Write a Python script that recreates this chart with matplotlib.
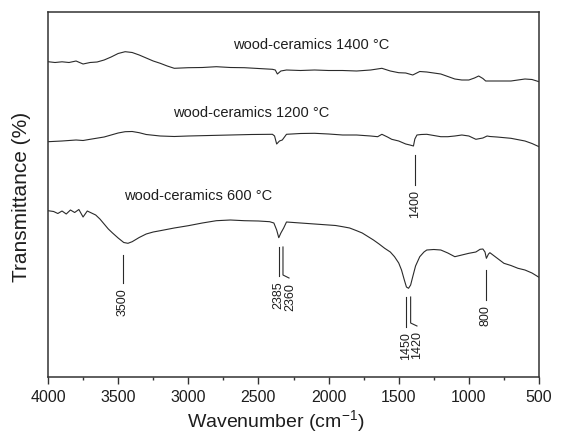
import matplotlib
matplotlib.use('Agg')
import matplotlib.pyplot as plt
from matplotlib.ticker import MultipleLocator

plt.rcParams['font.family'] = ['Liberation Sans', 'DejaVu Sans']
plt.rcParams['mathtext.fontset'] = 'custom'
plt.rcParams['mathtext.rm'] = 'Liberation Sans'

LINE_C = '#2a2a2a'
TEXT_C = '#1e1e1e'

# ── spectra (wavenumber, offset transmittance in arbitrary units) ──
WN_1400 = [4000, 3950, 3900, 3850, 3800, 3750, 3700, 3650, 3600, 3550,
           3500, 3450, 3400, 3350, 3300, 3250, 3200, 3150, 3100, 3050,
           3000, 2900, 2800, 2700, 2600, 2500, 2400, 2380, 2365, 2340,
           2300, 2200, 2100, 2000, 1900, 1800, 1700, 1620, 1560, 1500,
           1450, 1400, 1350, 1300, 1250, 1200, 1150, 1100, 1050, 1000,
           960, 930, 900, 880, 800, 700, 650, 600, 550, 500]
T_1400 = [313.3, 312.5, 313.2, 312.5, 314, 311, 312.5, 313, 315, 318,
          321.5, 323.3, 322.5, 320, 317, 314, 311.7, 309, 306.7, 307,
          307.3, 307.5, 308.3, 307.5, 307.3, 306.5, 305.7, 305, 301, 304,
          305, 304.5, 305, 304.5, 304.5, 304, 305, 306.7, 304, 302.3,
          302, 300, 303.5, 303, 302, 301, 298.5, 296, 295, 295,
          297, 299, 296.5, 294, 294, 294, 295, 296, 295.5, 293.3]

WN_1200 = [4000, 3900, 3800, 3750, 3700, 3600, 3500, 3450, 3400, 3350,
           3300, 3200, 3100, 3000, 2850, 2700, 2550, 2400, 2385, 2370,
           2350, 2330, 2300, 2200, 2100, 2000, 1900, 1800, 1700, 1650,
           1620, 1580, 1550, 1500, 1450, 1420, 1395, 1385, 1370, 1340,
           1300, 1250, 1200, 1150, 1100, 1050, 1000, 950, 900, 870,
           850, 800, 700, 600, 550, 500]
T_1200 = [233.3, 234, 235, 234.5, 235.7, 238, 242, 243.3, 243.5, 242.3,
          240.5, 239, 238.5, 239, 239.5, 240, 240.5, 240.7, 239, 231,
          234, 235, 240.7, 241.5, 241.7, 241, 240, 240, 239, 238.3,
          240.7, 238, 235.7, 234, 231, 230, 229, 236, 240, 240.5,
          240.7, 239.5, 238.3, 238.3, 239, 240, 239, 235.7, 237, 239,
          238.5, 238, 236.7, 234, 231.5, 228.3]

WN_600 = [4000, 3960, 3930, 3900, 3870, 3840, 3810, 3780, 3750, 3720,
          3690, 3660, 3630, 3600, 3570, 3540, 3500, 3460, 3430, 3400,
          3350, 3300, 3250, 3200, 3100, 3000, 2900, 2800, 2700, 2600,
          2500, 2420, 2390, 2370, 2355, 2340, 2320, 2300, 2200, 2100,
          2000, 1950, 1900, 1850, 1800, 1760, 1720, 1680, 1640, 1600,
          1560, 1530, 1500, 1480, 1460, 1445, 1430, 1415, 1400, 1380,
          1350, 1320, 1300, 1250, 1200, 1150, 1100, 1050, 1000, 950,
          920, 900, 885, 875, 860, 850, 800, 750, 700, 650,
          600, 550, 500]
T_600 = [164.3, 163.5, 161.5, 164, 161, 165, 162.5, 165.5, 158, 164,
         162, 160, 156, 151, 146, 142, 137, 132.5, 131.7, 133.3,
         137.5, 141, 143, 144.3, 147, 149.3, 152, 154.3, 155, 154.3,
         154, 153.3, 152, 145, 137.3, 142, 147, 153, 152, 151,
         150, 149.5, 148.3, 147, 144.3, 142, 138.5, 135, 131, 126.7,
         123, 118.3, 112, 105, 95, 88, 86.7, 90, 98.3, 109,
         118.3, 123, 125, 125.5, 125, 122, 118.3, 120, 121.7, 123,
         125.7, 126, 123, 116.7, 121, 122.3, 117, 111.7, 109.5, 106.7,
         105, 102, 97.7]

SERIES = [
    (WN_1400, T_1400, 'wood-ceramics 1400 °C', 2122, 330),
    (WN_1200, T_1200, 'wood-ceramics 1200 °C', 2550, 262),
    (WN_600, T_600, 'wood-ceramics 600 °C', 2927, 179),
]

fig = plt.figure(figsize=(5.66, 4.36), dpi=100)
ax = fig.add_axes([48 / 566, 1 - 377 / 436, 491 / 566, 365 / 436])

for wn, t, name, lx, ly in SERIES:
    ax.plot(wn, t, color=LINE_C, lw=0.8)
    ax.text(lx, ly, name, fontsize=10.5, color=TEXT_C, ha='center', va='center')


def mark(x, y0, y1, txt, tx=None, bend=None):
    # vertical peak marker with rotated label underneath
    if bend is None:
        ax.plot([x, x], [y0, y1], color=LINE_C, lw=0.8)
    else:
        bx, by = bend
        ax.plot([x, x, bx], [y0, by + 3, by], color=LINE_C, lw=0.8)
        y1 = by
    ax.text(x if tx is None else tx, y1 - 5, txt, rotation=90, fontsize=9,
            color=TEXT_C, ha='center', va='top')


mark(3468, 120, 92, '3500')
mark(2354, 128, 99, '2385', tx=2360)
mark(2325, 128, None, '2360', tx=2270, bend=(2282, 97))
mark(1385, 220, 190, '1400')
mark(1450, 78, 48, '1450')
mark(1415, 78, None, '1420', tx=1372, bend=(1370, 49))
mark(879, 105, 75, '800')

ax.set_xlim(4000, 500)
ax.set_ylim(-2, 363)
ax.xaxis.set_major_locator(MultipleLocator(500))
ax.xaxis.set_minor_locator(MultipleLocator(250))
ax.tick_params(axis='x', which='major', direction='out', length=5, width=1,
               labelsize=11.5, pad=4, colors='#333333', labelcolor=TEXT_C)
ax.tick_params(axis='x', which='minor', direction='out', length=2.5, width=1,
               colors='#333333')
ax.set_yticks([])
for s in ax.spines.values():
    s.set_color('#333333')
    s.set_linewidth(1.1)

ax.set_xlabel('Wavenumber (cm$^{\\mathregular{-1}}$)', fontsize=14, color=TEXT_C)
ax.xaxis.set_label_coords(0.464, -0.085)
ax.set_ylabel('Transmittance (%)', fontsize=15, color=TEXT_C)
ax.yaxis.set_label_coords(-0.035, 0.493)

fig.savefig('out.png', dpi=100, facecolor='white')
